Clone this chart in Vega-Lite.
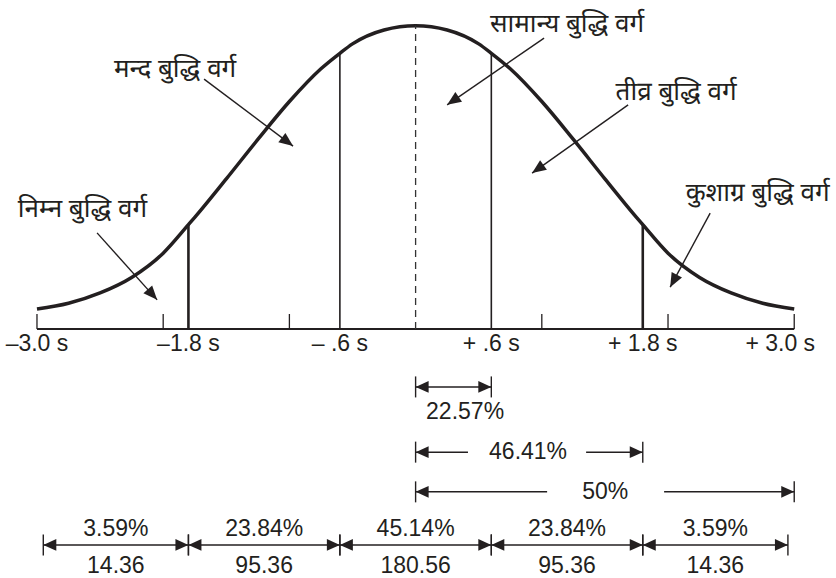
{
  "$schema": "https://vega.github.io/schema/vega-lite/v6.json",
  "width": 836,
  "height": 578,
  "autosize": {"type": "fit", "contains": "padding"},
  "padding": 0,
  "background": "white",
  "config": {
    "view": {"stroke": null},
    "text": {"font": "Liberation Sans", "fontSize": 23, "color": "#231f20"}
  },
  "datasets": {
    "curve": [
      {"s": -3.0, "h": 6.6}, {"s": -2.75, "h": 8.5}, {"s": -2.5, "h": 11.9}, {"s": -2.25, "h": 17.0},
      {"s": -2.0, "h": 25.0}, {"s": -1.8, "h": 34.4}, {"s": -1.75, "h": 36.8}, {"s": -1.5, "h": 49.5},
      {"s": -1.25, "h": 62.5}, {"s": -1.0, "h": 75.0}, {"s": -0.75, "h": 85.8}, {"s": -0.6, "h": 90.9},
      {"s": -0.5, "h": 94.0}, {"s": -0.25, "h": 98.6}, {"s": 0.0, "h": 100.0}, {"s": 0.25, "h": 98.6},
      {"s": 0.5, "h": 94.0}, {"s": 0.6, "h": 90.9}, {"s": 0.75, "h": 85.8}, {"s": 1.0, "h": 75.0},
      {"s": 1.25, "h": 62.5}, {"s": 1.5, "h": 49.5}, {"s": 1.75, "h": 36.8}, {"s": 1.8, "h": 34.4},
      {"s": 2.0, "h": 25.0}, {"s": 2.25, "h": 17.0}, {"s": 2.5, "h": 11.9}, {"s": 2.75, "h": 8.5},
      {"s": 3.0, "h": 6.6}
    ],
    "baseline": [{"s": -3.0, "s2": 3.0, "h": 0}],
    "ticks": [{"s": -3, "h": 0}, {"s": -2, "h": 0}, {"s": -1, "h": 0}, {"s": 1, "h": 0}, {"s": 2, "h": 0}, {"s": 3, "h": 0}],
    "dividers": [
      {"s": -1.8, "h": 0, "top": 34.4, "kind": "outer"},
      {"s": -0.6, "h": 0, "top": 90.9, "kind": "inner"},
      {"s": 0.0, "h": 0, "top": 100.0, "kind": "mean"},
      {"s": 0.6, "h": 0, "top": 90.9, "kind": "inner"},
      {"s": 1.8, "h": 0, "top": 34.4, "kind": "outer"}
    ],
    "tickLabels": [
      {"s": -3.0, "h": -5.1, "text": "–3.0 s"},
      {"s": -1.8, "h": -5.1, "text": "–1.8 s"},
      {"s": -0.6, "h": -5.1, "text": "– .6 s"},
      {"s": 0.6, "h": -5.1, "text": "+ .6 s"},
      {"s": 1.8, "h": -5.1, "text": "+ 1.8 s"},
      {"s": 3.0, "h": -5.1, "text": "+ 3.0 s"}
    ],
    "groups": [
      {"name": "निम्न बुद्धि वर्ग", "ls": -2.64, "lh": 39.6, "as": -2.524, "ah": 31.7, "bs": -2.048, "bh": 9.6},
      {"name": "मन्द बुद्धि वर्ग", "ls": -1.906, "lh": 85.7, "as": -1.676, "ah": 82.4, "bs": -0.971, "bh": 60.3},
      {"name": "सामान्य बुद्धि वर्ग", "ls": 1.2, "lh": 100.6, "as": 1.018, "ah": 95.9, "bs": 0.25, "bh": 73.9},
      {"name": "तीव्र बुद्धि वर्ग", "ls": 2.064, "lh": 78.0, "as": 1.684, "ah": 73.9, "bs": 0.923, "bh": 51.4},
      {"name": "कुशाग्र बुद्धि वर्ग", "ls": 2.71, "lh": 45.0, "as": 2.334, "ah": 38.2, "bs": 2.017, "bh": 13.8}
    ],
    "spans": [
      {"from": 0.0, "to": 0.6, "h": -19.1},
      {"from": 0.0, "to": 1.8, "h": -40.6},
      {"from": 0.0, "to": 3.0, "h": -53.7},
      {"from": -2.95, "to": -1.8, "h": -71.2},
      {"from": -1.8, "to": -0.6, "h": -71.2},
      {"from": -0.6, "to": 0.6, "h": -71.2},
      {"from": 0.6, "to": 1.8, "h": -71.2},
      {"from": 1.8, "to": 2.95, "h": -71.2}
    ],
    "shafts": [
      {"from": 0.0, "to": 0.6, "h": -19.1},
      {"from": 0.0, "to": 0.415, "h": -40.6},
      {"from": 1.351, "to": 1.8, "h": -40.6},
      {"from": 0.0, "to": 1.042, "h": -53.7},
      {"from": 1.969, "to": 3.0, "h": -53.7},
      {"from": -2.95, "to": 2.95, "h": -71.2}
    ],
    "spanLabels": [
      {"s": 0.392, "h": -27.4, "text": "22.57%"},
      {"s": 0.891, "h": -40.6, "text": "46.41%"},
      {"s": 1.502, "h": -53.7, "text": "50%"},
      {"s": -2.375, "h": -65.9, "text": "3.59%"},
      {"s": -1.2, "h": -65.9, "text": "23.84%"},
      {"s": 0.0, "h": -65.9, "text": "45.14%"},
      {"s": 1.2, "h": -65.9, "text": "23.84%"},
      {"s": 2.375, "h": -65.9, "text": "3.59%"},
      {"s": -2.375, "h": -78.1, "text": "14.36"},
      {"s": -1.2, "h": -78.1, "text": "95.36"},
      {"s": 0.0, "h": -78.1, "text": "180.56"},
      {"s": 1.2, "h": -78.1, "text": "95.36"},
      {"s": 2.375, "h": -78.1, "text": "14.36"}
    ]
  },
  "layer": [
    {
      "data": {"name": "curve"},
      "mark": {"type": "line", "interpolate": "monotone", "strokeWidth": 3.5, "color": "#231f20"},
      "encoding": {
        "x": {"field": "s", "type": "quantitative", "scale": {"domain": [-3.293, 3.331], "nice": false, "zero": false}, "axis": null},
        "y": {"field": "h", "type": "quantitative", "scale": {"domain": [-82.1, 108.47], "nice": false, "zero": false}, "axis": null}
      }
    },
    {
      "data": {"name": "baseline"},
      "mark": {"type": "rule", "strokeWidth": 1.8, "color": "#231f20"},
      "encoding": {
        "x": {"field": "s", "type": "quantitative", "scale": {"domain": [-3.293, 3.331], "nice": false, "zero": false}, "axis": null},
        "x2": {"field": "s2"},
        "y": {"field": "h", "type": "quantitative", "scale": {"domain": [-82.1, 108.47], "nice": false, "zero": false}, "axis": null}
      }
    },
    {
      "data": {"name": "ticks"},
      "mark": {"type": "tick", "orient": "vertical", "size": 15, "thickness": 1.3, "yOffset": -7.5, "color": "#231f20", "opacity": 1},
      "encoding": {
        "x": {"field": "s", "type": "quantitative", "scale": {"domain": [-3.293, 3.331], "nice": false, "zero": false}, "axis": null},
        "y": {"field": "h", "type": "quantitative", "scale": {"domain": [-82.1, 108.47], "nice": false, "zero": false}, "axis": null}
      }
    },
    {
      "data": {"name": "dividers"},
      "transform": [{"filter": "datum.kind == 'outer'"}],
      "mark": {"type": "rule", "strokeWidth": 2.6, "color": "#231f20"},
      "encoding": {
        "x": {"field": "s", "type": "quantitative", "scale": {"domain": [-3.293, 3.331], "nice": false, "zero": false}, "axis": null},
        "y": {"field": "h", "type": "quantitative", "scale": {"domain": [-82.1, 108.47], "nice": false, "zero": false}, "axis": null},
        "y2": {"field": "top"}
      }
    },
    {
      "data": {"name": "dividers"},
      "transform": [{"filter": "datum.kind == 'inner'"}],
      "mark": {"type": "rule", "strokeWidth": 1.6, "color": "#231f20"},
      "encoding": {
        "x": {"field": "s", "type": "quantitative", "scale": {"domain": [-3.293, 3.331], "nice": false, "zero": false}, "axis": null},
        "y": {"field": "h", "type": "quantitative", "scale": {"domain": [-82.1, 108.47], "nice": false, "zero": false}, "axis": null},
        "y2": {"field": "top"}
      }
    },
    {
      "data": {"name": "dividers"},
      "transform": [{"filter": "datum.kind == 'mean'"}],
      "mark": {"type": "rule", "strokeWidth": 1.3, "color": "#333333", "strokeDash": [7, 5]},
      "encoding": {
        "x": {"field": "s", "type": "quantitative", "scale": {"domain": [-3.293, 3.331], "nice": false, "zero": false}, "axis": null},
        "y": {"field": "h", "type": "quantitative", "scale": {"domain": [-82.1, 108.47], "nice": false, "zero": false}, "axis": null},
        "y2": {"field": "top"}
      }
    },
    {
      "data": {"name": "tickLabels"},
      "transform": [{"filter": "datum.s < 3"}],
      "mark": {"type": "text", "baseline": "middle", "align": "center"},
      "encoding": {
        "x": {"field": "s", "type": "quantitative", "scale": {"domain": [-3.293, 3.331], "nice": false, "zero": false}, "axis": null},
        "y": {"field": "h", "type": "quantitative", "scale": {"domain": [-82.1, 108.47], "nice": false, "zero": false}, "axis": null},
        "text": {"field": "text"}
      }
    },
    {
      "data": {"name": "tickLabels"},
      "transform": [{"filter": "datum.s >= 3"}],
      "mark": {"type": "text", "baseline": "middle", "align": "center", "dx": -14},
      "encoding": {
        "x": {"field": "s", "type": "quantitative", "scale": {"domain": [-3.293, 3.331], "nice": false, "zero": false}, "axis": null},
        "y": {"field": "h", "type": "quantitative", "scale": {"domain": [-82.1, 108.47], "nice": false, "zero": false}, "axis": null},
        "text": {"field": "text"}
      }
    },
    {
      "data": {"name": "groups"},
      "mark": {"type": "rule", "strokeWidth": 1.4, "color": "#231f20"},
      "encoding": {
        "x": {"field": "as", "type": "quantitative", "scale": {"domain": [-3.293, 3.331], "nice": false, "zero": false}, "axis": null},
        "y": {"field": "ah", "type": "quantitative", "scale": {"domain": [-82.1, 108.47], "nice": false, "zero": false}, "axis": null},
        "x2": {"field": "bs"},
        "y2": {"field": "bh"}
      }
    },
    {
      "data": {"name": "groups"},
      "transform": [
        {"calculate": "atan2((datum.bs - datum.as) * 126.2, (datum.bh - datum.ah) * 3.033) * 180 / PI", "as": "heading"}
      ],
      "mark": {"type": "point", "shape": "M0,0 L0.42,1 L-0.42,1 Z", "filled": true, "opacity": 1, "size": 784, "color": "#231f20", "strokeWidth": 0},
      "encoding": {
        "x": {"field": "bs", "type": "quantitative", "scale": {"domain": [-3.293, 3.331], "nice": false, "zero": false}, "axis": null},
        "y": {"field": "bh", "type": "quantitative", "scale": {"domain": [-82.1, 108.47], "nice": false, "zero": false}, "axis": null},
        "angle": {"field": "heading", "type": "quantitative", "scale": null}
      }
    },
    {
      "data": {"name": "groups"},
      "mark": {"type": "text", "baseline": "middle", "align": "center", "font": "Noto Sans Devanagari, Lohit Devanagari, FreeSans, Noto Sans", "fontSize": 26},
      "encoding": {
        "x": {"field": "ls", "type": "quantitative", "scale": {"domain": [-3.293, 3.331], "nice": false, "zero": false}, "axis": null},
        "y": {"field": "lh", "type": "quantitative", "scale": {"domain": [-82.1, 108.47], "nice": false, "zero": false}, "axis": null},
        "text": {"field": "name"}
      }
    },
    {
      "data": {"name": "shafts"},
      "mark": {"type": "rule", "strokeWidth": 1.5, "color": "#231f20"},
      "encoding": {
        "x": {"field": "from", "type": "quantitative", "scale": {"domain": [-3.293, 3.331], "nice": false, "zero": false}, "axis": null},
        "x2": {"field": "to"},
        "y": {"field": "h", "type": "quantitative", "scale": {"domain": [-82.1, 108.47], "nice": false, "zero": false}, "axis": null}
      }
    },
    {
      "data": {"name": "spans"},
      "transform": [{"fold": ["from", "to"], "as": ["end", "at"]}],
      "mark": {"type": "tick", "orient": "vertical", "size": 21, "thickness": 1.4, "color": "#231f20", "opacity": 1},
      "encoding": {
        "x": {"field": "at", "type": "quantitative", "scale": {"domain": [-3.293, 3.331], "nice": false, "zero": false}, "axis": null},
        "y": {"field": "h", "type": "quantitative", "scale": {"domain": [-82.1, 108.47], "nice": false, "zero": false}, "axis": null}
      }
    },
    {
      "data": {"name": "spans"},
      "mark": {"type": "point", "shape": "M0,0 L0.45,1 L-0.45,1 Z", "filled": true, "opacity": 1, "size": 676, "color": "#231f20", "strokeWidth": 0, "angle": 270},
      "encoding": {
        "x": {"field": "from", "type": "quantitative", "scale": {"domain": [-3.293, 3.331], "nice": false, "zero": false}, "axis": null},
        "y": {"field": "h", "type": "quantitative", "scale": {"domain": [-82.1, 108.47], "nice": false, "zero": false}, "axis": null}
      }
    },
    {
      "data": {"name": "spans"},
      "mark": {"type": "point", "shape": "M0,0 L0.45,1 L-0.45,1 Z", "filled": true, "opacity": 1, "size": 676, "color": "#231f20", "strokeWidth": 0, "angle": 90},
      "encoding": {
        "x": {"field": "to", "type": "quantitative", "scale": {"domain": [-3.293, 3.331], "nice": false, "zero": false}, "axis": null},
        "y": {"field": "h", "type": "quantitative", "scale": {"domain": [-82.1, 108.47], "nice": false, "zero": false}, "axis": null}
      }
    },
    {
      "data": {"name": "spanLabels"},
      "mark": {"type": "text", "baseline": "middle", "align": "center"},
      "encoding": {
        "x": {"field": "s", "type": "quantitative", "scale": {"domain": [-3.293, 3.331], "nice": false, "zero": false}, "axis": null},
        "y": {"field": "h", "type": "quantitative", "scale": {"domain": [-82.1, 108.47], "nice": false, "zero": false}, "axis": null},
        "text": {"field": "text"}
      }
    }
  ]
}
